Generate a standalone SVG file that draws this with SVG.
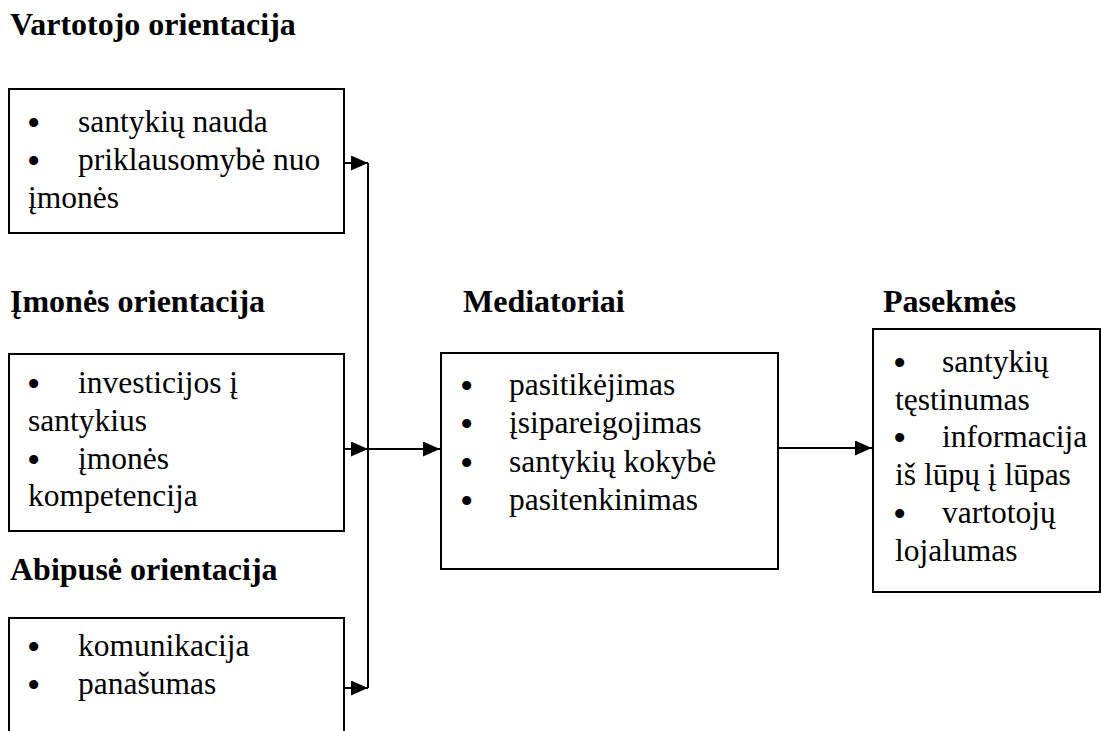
<svg xmlns="http://www.w3.org/2000/svg" width="1101" height="731" viewBox="0 0 1101 731">
  <style>
    .box { fill: #fff; stroke: #000; stroke-width: 2; }
    .head { font-family: "Liberation Serif", "Times New Roman", serif; font-size: 32px; font-weight: bold; fill: #000; }
    .txt { font-family: "Liberation Serif", "Times New Roman", serif; font-size: 31.5px; fill: #000; }
    .dot { font-size: 38px; }
    .wire { stroke: #000; stroke-width: 2; fill: none; }
  </style>
  <defs>
    <marker id="arrow" markerWidth="17" markerHeight="15" refX="17" refY="7.5" orient="auto" markerUnits="userSpaceOnUse">
      <path d="M0,0 L17,7.5 L0,15 Z" fill="#000"/>
    </marker>
  </defs>
  <rect width="1101" height="731" fill="#fff"/>

  <!-- customer orientation -->
  <g id="vartotojo">
    <text class="head" x="10" y="35">Vartotojo orientacija</text>
    <rect class="box" x="9" y="89" width="335" height="144"/>
    <text class="txt" x="27" y="132"><tspan class="dot" dy="4">•</tspan><tspan x="78" dy="-4">santykių nauda</tspan></text>
    <text class="txt" x="27" y="170"><tspan class="dot" dy="4">•</tspan><tspan x="78" dy="-4">priklausomybė nuo</tspan></text>
    <text class="txt" x="28" y="208">įmonės</text>
  </g>

  <!-- company orientation -->
  <g id="imones">
    <text class="head" x="10" y="312">Įmonės orientacija</text>
    <rect class="box" x="9" y="354" width="335" height="177"/>
    <text class="txt" x="27" y="393"><tspan class="dot" dy="4">•</tspan><tspan x="78" dy="-4">investicijos į</tspan></text>
    <text class="txt" x="28" y="431">santykius</text>
    <text class="txt" x="27" y="469"><tspan class="dot" dy="4">•</tspan><tspan x="78" dy="-4">įmonės</tspan></text>
    <text class="txt" x="28" y="506">kompetencija</text>
  </g>

  <!-- mutual orientation (box runs past the bottom edge) -->
  <g id="abipuse">
    <text class="head" x="10" y="580">Abipusė orientacija</text>
    <rect class="box" x="9" y="618" width="335" height="130"/>
    <text class="txt" x="27" y="656"><tspan class="dot" dy="4">•</tspan><tspan x="78" dy="-4">komunikacija</tspan></text>
    <text class="txt" x="27" y="694"><tspan class="dot" dy="4">•</tspan><tspan x="78" dy="-4">panašumas</tspan></text>
  </g>

  <!-- mediators -->
  <g id="mediatoriai">
    <text class="head" x="463" y="312">Mediatoriai</text>
    <rect class="box" x="441" y="353" width="337" height="216"/>
    <text class="txt" x="460" y="395"><tspan class="dot" dy="4">•</tspan><tspan x="509" dy="-4">pasitikėjimas</tspan></text>
    <text class="txt" x="460" y="433"><tspan class="dot" dy="4">•</tspan><tspan x="509" dy="-4">įsipareigojimas</tspan></text>
    <text class="txt" x="460" y="472"><tspan class="dot" dy="4">•</tspan><tspan x="509" dy="-4">santykių kokybė</tspan></text>
    <text class="txt" x="460" y="510"><tspan class="dot" dy="4">•</tspan><tspan x="509" dy="-4">pasitenkinimas</tspan></text>
  </g>

  <!-- consequences -->
  <g id="pasekmes">
    <text class="head" x="883" y="312">Pasekmės</text>
    <rect class="box" x="873" y="329" width="227" height="263"/>
    <text class="txt" x="893" y="372"><tspan class="dot" dy="4">•</tspan><tspan x="942" dy="-4">santykių</tspan></text>
    <text class="txt" x="895" y="410">tęstinumas</text>
    <text class="txt" x="893" y="447"><tspan class="dot" dy="4">•</tspan><tspan x="942" dy="-4">informacija</tspan></text>
    <text class="txt" x="895" y="485">iš lūpų į lūpas</text>
    <text class="txt" x="893" y="523"><tspan class="dot" dy="4">•</tspan><tspan x="942" dy="-4">vartotojų</tspan></text>
    <text class="txt" x="895" y="561">lojalumas</text>
  </g>

  <!-- connectors -->
  <g id="connectors">
    <line class="wire" x1="368" y1="163" x2="368" y2="688"/>
    <line class="wire" x1="344" y1="163" x2="368" y2="163" marker-end="url(#arrow)"/>
    <line class="wire" x1="344" y1="449" x2="368" y2="449" marker-end="url(#arrow)"/>
    <line class="wire" x1="344" y1="688" x2="368" y2="688" marker-end="url(#arrow)"/>
    <line class="wire" x1="368" y1="449" x2="440" y2="449" marker-end="url(#arrow)"/>
    <line class="wire" x1="778" y1="448" x2="872" y2="448" marker-end="url(#arrow)"/>
  </g>
</svg>
